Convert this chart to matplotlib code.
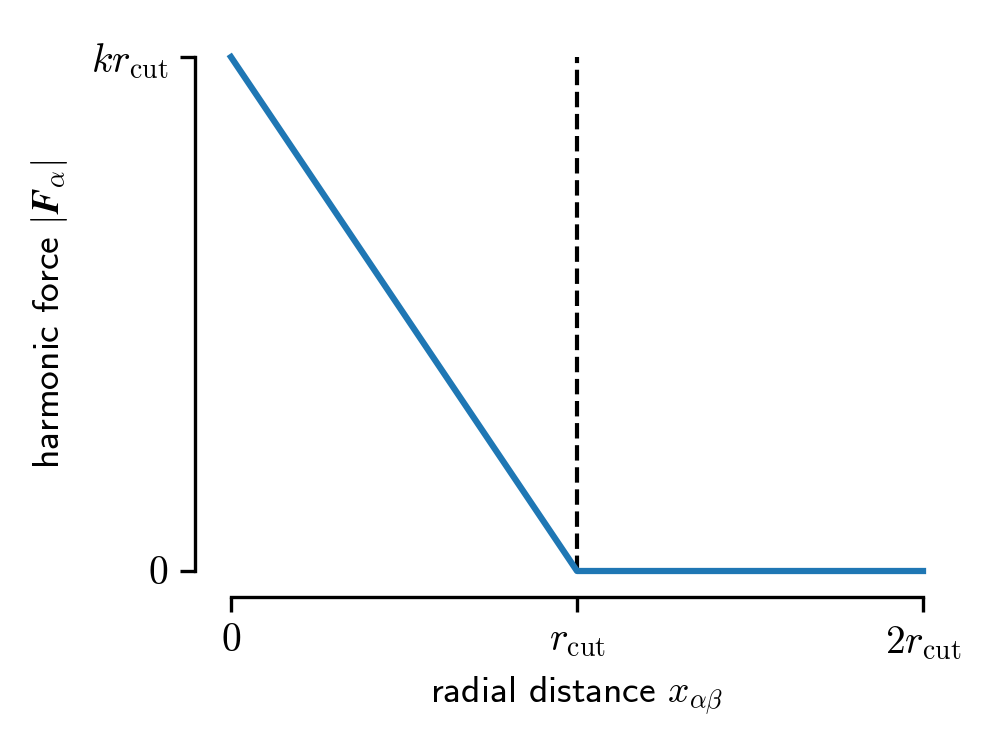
import numpy as np
import matplotlib
matplotlib.use("Agg")
import matplotlib.pyplot as plt

plt.rcParams["font.family"] = ["cmss10", "DejaVu Sans"]
plt.rcParams["mathtext.fontset"] = "cm"
plt.rcParams["axes.unicode_minus"] = False
plt.rcParams["font.size"] = 9

# data: harmonic force vs distance (units of r_cut, k*r_cut)
x_vals = [0.0, 1.0, 2.0]
force_vals = [1.0, 0.0, 0.0]
cut_pos = 1.0

xticks = [0, 1, 2]
xticklabels = [r"$0$", r"$r_\mathrm{cut}$", r"$2r_\mathrm{cut}$"]
yticks = [0, 1]
yticklabels = [r"$0$", r"$kr_\mathrm{cut}$"]

DPI = 300
fig = plt.figure(figsize=(995 / DPI, 743 / DPI), dpi=DPI)
W, H = 995, 743
ax = fig.add_axes([231 / W, 1 - 571 / H, (923 - 231) / W, (571 - 57) / H])

ax.plot(x_vals, force_vals, color="#1f77b4", lw=1.5, clip_on=False, zorder=3)
ax.plot([cut_pos, cut_pos], [0, 1], color="black", ls="--", lw=1.0, clip_on=False, zorder=2)

ax.set_xlim(0, 2)
ax.set_ylim(0, 1)
ax.set_xticks(xticks)
ax.set_xticklabels(xticklabels)
ax.set_yticks(yticks)
ax.set_yticklabels(yticklabels)

for s in ["top", "right"]:
    ax.spines[s].set_visible(False)
ax.spines["left"].set_position(("outward", 36 * 72 / DPI))
ax.spines["bottom"].set_position(("outward", 26 * 72 / DPI))
for s in ["left", "bottom"]:
    ax.spines[s].set_linewidth(0.8)
ax.tick_params(width=0.8, length=3.5, labelsize=9.5, pad=3)

ax.set_xlabel(r"radial distance $x_{\alpha\beta}$", labelpad=3)
ax.set_ylabel(r"harmonic force $|\boldsymbol{F}_\alpha|$", labelpad=5)

fig.savefig("out.png", dpi=DPI)
